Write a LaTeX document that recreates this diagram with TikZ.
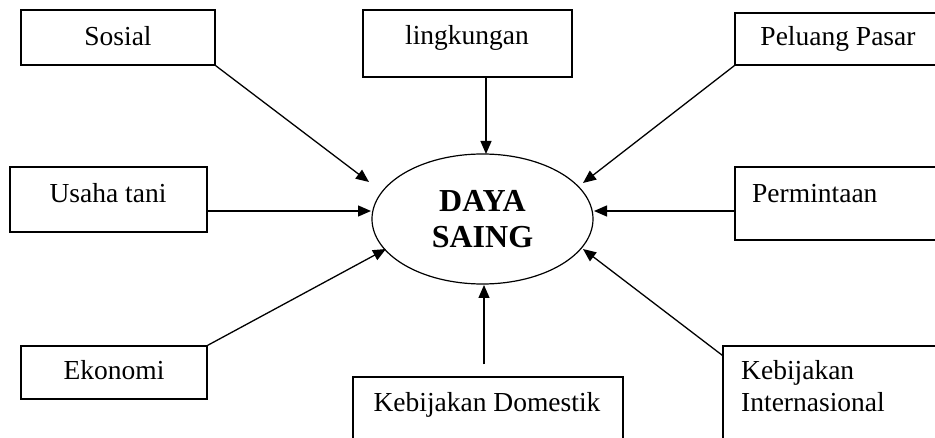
\documentclass[tikz,border=0pt]{standalone}
\usepackage{fontspec}
\setmainfont{Liberation Serif}
\usetikzlibrary{arrows.meta,shapes.geometric,calc}
\begin{document}
\begin{tikzpicture}[x=1pt,y=-1pt,
  box/.style={draw, line width=1.3pt, rectangle, inner sep=0pt},
  lbl/.style={inner sep=0pt, anchor=base, font=\fontsize{27.5}{32}\selectfont},
  lblw/.style={lbl, anchor=base west},
  arr/.style={line width=1.3pt, -{Triangle[length=13pt,width=11pt]}},
]
\useasboundingbox (0,0) rectangle (935,438);
\clip (0,0) rectangle (935,438);
\fill[white] (0,0) rectangle (935,438);

% boxes
\node[box, minimum width=194pt, minimum height=55pt] (sos) at (118,37.5) {};
\node[box, minimum width=209pt, minimum height=67pt] (ling) at (467.5,43.5) {};
\node[box, minimum width=225pt, minimum height=52pt] (pel) at (847.5,39) {};
\node[box, minimum width=197pt, minimum height=65pt] (usa) at (108.5,199.5) {};
\node[box, minimum width=225pt, minimum height=73pt] (perm) at (847.5,203.5) {};
\node[box, minimum width=186pt, minimum height=53pt] (eko) at (114,372.5) {};
\node[box, minimum width=270pt, minimum height=83pt] (dom) at (488,418.5) {};
\node[box, minimum width=237pt, minimum height=114pt] (intl) at (841.5,403) {};

% labels
\node[lbl] (tsos) at (118,45.5) {Sosial};
\node[lbl] (tling) at (467,45) {lingkungan};
\node[lbl] (tpel) at (838,46) {Peluang Pasar};
\node[lbl] (tusa) at (108,203) {Usaha tani};
\node[lblw] (tperm) at (752,203) {Permintaan};
\node[lbl] (teko) at (114,380) {Ekonomi};
\node[lbl] (tdom) at (487,412) {Kebijakan Domestik};
\node[lblw] (tintl1) at (741,380) {Kebijakan};
\node[lblw] (tintl2) at (741,412) {Internasional};

% centre
\node[draw, ellipse, line width=1.2pt, minimum width=221pt, minimum height=130pt,
  inner sep=0pt, align=center, font=\bfseries\fontsize{32}{36}\selectfont]
  (ds) at (482.5,219) {DAYA\\SAING};

% arrow tips
\coordinate (tSos) at (369,182);
\coordinate (tTop) at (486,154);
\coordinate (tPel) at (583,183);
\coordinate (tL) at (371,211);
\coordinate (tR) at (594,211);
\coordinate (tEko) at (386,249);
\coordinate (tBot) at (484,285);
\coordinate (tIntl) at (583,249);

% connectors
\draw[arr] (sos.south east) -- (tSos);
\draw[arr] (tTop |- ling.south) -- (tTop);
\draw[arr] (pel.south west) -- (tPel);
\draw[arr] (usa.east |- tL) -- (tL);
\draw[arr] (perm.west |- tR) -- (tR);
\draw[arr] (eko.north east) -- (tEko);
\draw[arr] ($(tBot |- dom.north)+(0,-12)$) -- (tBot);
\draw[arr] ($(intl.north west)+(0,10)$) -- (tIntl);
\end{tikzpicture}
\end{document}
